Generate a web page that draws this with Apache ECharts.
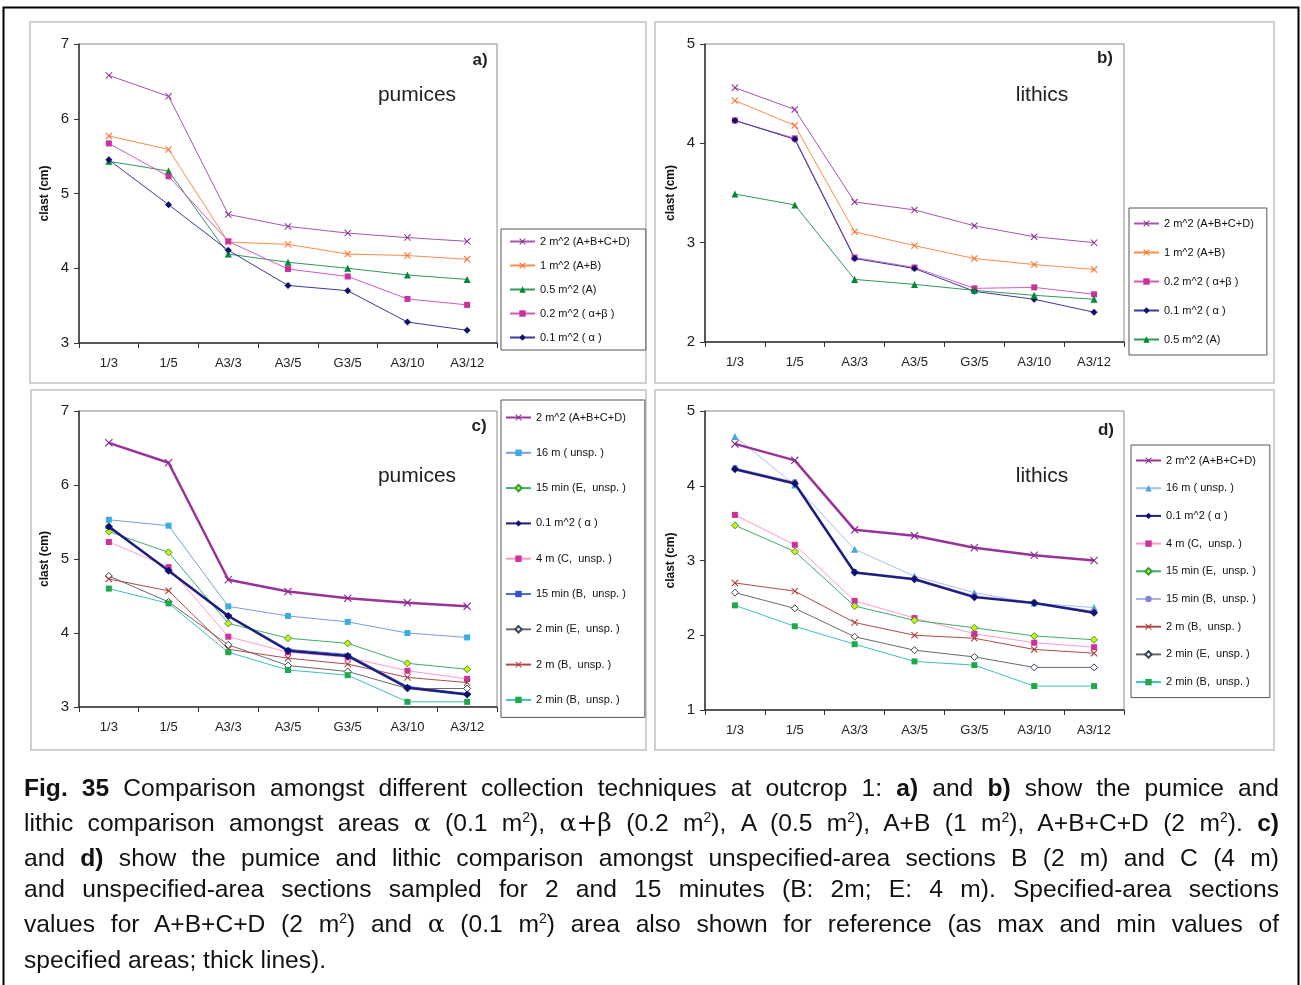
<!DOCTYPE html>
<html><head><meta charset="utf-8">
<script src="https://cdn.jsdelivr.net/npm/echarts@6/dist/echarts.min.js"></script>
<style>
html,body{margin:0;padding:0;background:#fff;}
#chart{position:absolute;left:0;top:0;width:1301px;height:985px;}
#cap{position:absolute;left:24px;top:772px;width:1255px;font-family:"Liberation Sans",Arial,sans-serif;font-size:24.6px;color:#111;}
#cap .l{text-align:justify;text-align-last:justify;line-height:32px;white-space:nowrap;}
#cap .l.last{text-align-last:left;}
#cap sup{font-size:14px;line-height:0;}
#cap .g{font-family:"DejaVu Serif",serif;font-size:25px;}
</style></head><body>
<div id="chart"></div>
<div id="cap">
<div class="l"><b>Fig. 35</b> Comparison amongst different collection techniques at outcrop 1: <b>a)</b> and <b>b)</b> show the pumice and</div>
<div class="l" style="line-height:38px">lithic comparison amongst areas <span class="g">α</span> (0.1 m<sup>2</sup>), <span class="g">α+β</span> (0.2 m<sup>2</sup>), A (0.5 m<sup>2</sup>), A+B (1 m<sup>2</sup>), A+B+C+D (2 m<sup>2</sup>). <b>c)</b></div>
<div class="l">and <b>d)</b> show the pumice and lithic comparison amongst unspecified-area sections B (2 m) and C (4 m)</div>
<div class="l" style="line-height:30px">and unspecified-area sections sampled for 2 and 15 minutes (B: 2m; E: 4 m). Specified-area sections</div>
<div class="l" style="line-height:40px">values for A+B+C+D (2 m<sup>2</sup>) and <span class="g">α</span> (0.1 m<sup>2</sup>) area also shown for reference (as max and min values of</div>
<div class="l last">specified areas; thick lines).</div>
</div>
<script>
const categories = ['1/3','1/5','A3/3','A3/5','G3/5','A3/10','A3/12'];

// panel a (pumices, areas)
const a_2m2  = [6.58,6.30,4.72,4.56,4.47,4.41,4.36];
const a_1m2  = [5.77,5.59,4.35,4.32,4.19,4.17,4.12];
const a_05m2 = [5.43,5.30,4.19,4.08,4.00,3.91,3.85];
const a_02m2 = [5.67,5.23,4.36,3.99,3.89,3.59,3.51];
const a_01m2 = [5.45,4.85,4.24,3.77,3.70,3.28,3.17];

// panel b (lithics, areas)
const b_2m2  = [4.56,4.34,3.41,3.33,3.17,3.06,3.00];
const b_1m2  = [4.43,4.18,3.11,2.97,2.84,2.78,2.73];
const b_02m2 = [4.23,4.05,2.85,2.75,2.54,2.55,2.48];
const b_01m2 = [4.23,4.04,2.84,2.74,2.51,2.43,2.30];
const b_05m2 = [3.49,3.38,2.63,2.58,2.52,2.47,2.43];

// panel c (pumices, unspecified)
const c_2m2    = [6.57,6.30,4.72,4.56,4.47,4.41,4.36];
const c_16m    = [5.53,5.45,4.36,4.23,4.15,4.00,3.94];
const c_15minE = [5.37,5.09,4.13,3.93,3.86,3.59,3.51];
const c_01m2   = [5.44,4.84,4.23,3.76,3.69,3.26,3.17];
const c_4mC    = [5.23,4.89,3.95,3.74,3.67,3.49,3.38];
const c_15minB = [5.42,4.85,4.24,3.78,3.71,3.28,3.18];
const c_2minE  = [4.77,4.42,3.84,3.56,3.48,3.25,3.25];
const c_2mB    = [4.73,4.57,3.78,3.66,3.58,3.40,3.33];
const c_2minB  = [4.60,4.40,3.74,3.50,3.43,3.07,3.07];

// panel d (lithics, unspecified)
const d_2m2    = [4.56,4.34,3.41,3.33,3.17,3.07,3.00];
const d_16m    = [4.66,4.01,3.15,2.79,2.57,2.43,2.37];
const d_01m2   = [4.22,4.03,2.84,2.75,2.51,2.43,2.30];
const d_4mC    = [3.61,3.21,2.46,2.23,2.02,1.90,1.84];
const d_15minE = [3.47,3.12,2.39,2.20,2.10,1.99,1.94];
const d_15minB = [4.24,4.05,2.85,2.76,2.53,2.44,2.32];
const d_2mB    = [2.70,2.59,2.17,2.00,1.96,1.81,1.76];
const d_2minE  = [2.57,2.36,1.98,1.80,1.71,1.57,1.57];
const d_2minB  = [2.40,2.12,1.88,1.65,1.60,1.32,1.32];

const yRanges = [[3,7],[2,5],[3,7],[1,5]];

const XSYM = 'path://M1,0 L5,4 L9,0 L10,1 L6,5 L10,9 L9,10 L5,6 L1,10 L0,9 L4,5 L0,1Z';
const ZW = ['', '\u200b', '\u200b\u200b', '\u200b\u200b\u200b'];

function mk(name, data, g, o) {
  return {
    type: 'line', name: name + ZW[g], data: data,
    xAxisIndex: g, yAxisIndex: g,
    symbol: o.sym, symbolSize: o.size || 6,
    lineStyle: { color: o.line, width: o.w || 1 },
    itemStyle: { color: o.fill || o.mark, borderColor: o.mark, borderWidth: o.bw || 0 },
    z: o.z || 2
  };
}

const st = {
  m2:   { line: '#a855b0', mark: '#8a2a90', sym: XSYM, size: 7 },
  m2t:  { line: '#993399', mark: '#8a2a90', sym: XSYM, size: 8, w: 2.5, z: 5 },
  m1:   { line: '#ff8c4a', mark: '#ff6a20', sym: XSYM, size: 7 },
  m05:  { line: '#2f9a5a', mark: '#008a33', sym: 'triangle', size: 7 },
  m02:  { line: '#d05cc0', mark: '#c8329a', sym: 'rect', size: 6 },
  m01:  { line: '#3a3a9a', mark: '#101070', sym: 'diamond', size: 7 },
  m01t: { line: '#1e1e80', mark: '#101070', sym: 'diamond', size: 8, w: 2.5, z: 5 },
  m16c: { line: '#7a9de0', mark: '#3aaee0', sym: 'rect', size: 6 },
  m16d: { line: '#a9c0ee', mark: '#44a8dd', sym: 'triangle', size: 7 },
  m15E: { line: '#3fae6a', mark: '#2f9a4a', fill: '#d8f000', bw: 1, sym: 'diamond', size: 7 },
  m4C:  { line: '#ff9ad0', mark: '#d0309a', sym: 'rect', size: 6 },
  m15Bc:{ line: '#4a70d0', mark: '#3355cc', sym: 'rect', size: [7,2] },
  m15Bd:{ line: '#b0b0ee', mark: '#8a80d8', sym: 'circle', size: 6 },
  m2mE: { line: '#6a6a6a', mark: '#334455', fill: '#ffffff', bw: 1, sym: 'diamond', size: 7 },
  m2mB: { line: '#b04a4a', mark: '#a83232', sym: XSYM, size: 7 },
  m2minB:{ line: '#3ec0c0', mark: '#1ea84a', sym: 'rect', size: 6 }
};

const series = [
  mk('2 m^2 (A+B+C+D)', a_2m2, 0, st.m2),
  mk('1 m^2 (A+B)', a_1m2, 0, st.m1),
  mk('0.5 m^2 (A)', a_05m2, 0, st.m05),
  mk('0.2 m^2 ( α+β )', a_02m2, 0, st.m02),
  mk('0.1 m^2 ( α )', a_01m2, 0, st.m01),

  mk('2 m^2 (A+B+C+D)', b_2m2, 1, st.m2),
  mk('1 m^2 (A+B)', b_1m2, 1, st.m1),
  mk('0.2 m^2 ( α+β )', b_02m2, 1, st.m02),
  mk('0.1 m^2 ( α )', b_01m2, 1, st.m01),
  mk('0.5 m^2 (A)', b_05m2, 1, st.m05),

  mk('2 m^2 (A+B+C+D)', c_2m2, 2, st.m2t),
  mk('16 m ( unsp. )', c_16m, 2, st.m16c),
  mk('15 min (E,  unsp. )', c_15minE, 2, st.m15E),
  mk('0.1 m^2 ( α )', c_01m2, 2, st.m01t),
  mk('4 m (C,  unsp. )', c_4mC, 2, st.m4C),
  mk('15 min (B,  unsp. )', c_15minB, 2, st.m15Bc),
  mk('2 min (E,  unsp. )', c_2minE, 2, st.m2mE),
  mk('2 m (B,  unsp. )', c_2mB, 2, st.m2mB),
  mk('2 min (B,  unsp. )', c_2minB, 2, st.m2minB),

  mk('2 m^2 (A+B+C+D)', d_2m2, 3, st.m2t),
  mk('16 m ( unsp. )', d_16m, 3, st.m16d),
  mk('0.1 m^2 ( α )', d_01m2, 3, st.m01t),
  mk('4 m (C,  unsp. )', d_4mC, 3, st.m4C),
  mk('15 min (E,  unsp. )', d_15minE, 3, st.m15E),
  mk('15 min (B,  unsp. )', d_15minB, 3, st.m15Bd),
  mk('2 m (B,  unsp. )', d_2mB, 3, st.m2mB),
  mk('2 min (E,  unsp. )', d_2minE, 3, st.m2mE),
  mk('2 min (B,  unsp. )', d_2minB, 3, st.m2minB)
];

const grids = [
  { left: 79, top: 44, width: 418, height: 299 },
  { left: 705, top: 44, width: 419, height: 298 },
  { left: 79, top: 411, width: 418, height: 296 },
  { left: 705, top: 411, width: 419, height: 299 }
].map(g => Object.assign(g, { show: true, borderColor: '#8a8a8a', borderWidth: 1, backgroundColor: 'transparent' }));

const xAxes = grids.map((g, i) => ({
  type: 'category', gridIndex: i, data: categories, boundaryGap: true,
  axisLine: { lineStyle: { color: '#333', width: 1.5 } },
  axisTick: { show: true, alignWithLabel: false, length: 5, lineStyle: { color: '#333' } },
  axisLabel: { color: '#222', fontSize: 13, margin: 14, fontFamily: 'Liberation Sans, Arial' },
  splitLine: { show: false }
}));

const yAxes = grids.map((g, i) => ({
  type: 'value', gridIndex: i, min: yRanges[i][0], max: yRanges[i][1], interval: 1,
  name: 'clast (cm)', nameLocation: 'middle', nameGap: 28, nameRotate: 90,
  nameTextStyle: { fontWeight: 'bold', fontSize: 12, color: '#111', fontFamily: 'Liberation Sans, Arial' },
  axisLine: { show: true, lineStyle: { color: '#333', width: 1.5 } },
  axisTick: { show: true, length: 5, lineStyle: { color: '#333' } },
  axisLabel: { color: '#222', fontSize: 15, margin: 10, fontFamily: 'Liberation Sans, Arial' },
  splitLine: { show: false }
}));

function legendNames(g) {
  return series.filter(s => s.xAxisIndex === g).map(s => s.name);
}
const legBase = {
  orient: 'vertical', itemWidth: 25, itemHeight: 8,
  borderColor: '#555', borderWidth: 1, backgroundColor: '#fff',
  textStyle: { fontSize: 11, color: '#111', fontFamily: 'Liberation Sans, Arial' },
  formatter: n => n.replace(/\u200b/g, ''),
  selectedMode: false
};
const legends = [
  Object.assign({}, legBase, { data: legendNames(0), left: 501, top: 229, itemGap: 13, padding: [7, 16, 7, 8] }),
  Object.assign({}, legBase, { data: legendNames(1), left: 1129, top: 208, itemGap: 18, padding: [10, 13, 10, 4] }),
  Object.assign({}, legBase, { data: legendNames(2), left: 501, top: 400, itemGap: 24.3, padding: [12, 19, 12, 4] }),
  Object.assign({}, legBase, { data: legendNames(3), left: 1131, top: 445, itemGap: 16.7, padding: [10, 14, 10, 4] })
];

const frameStyle = { fill: 'none', stroke: '#cfcfcf', lineWidth: 2 };
const txt = (x, y, t, size, bold) => ({
  type: 'text', x: x, y: y, z: 20,
  style: { text: t, fontSize: size, fontWeight: bold ? 'bold' : 'normal', fill: '#222',
           fontFamily: 'Liberation Sans, Arial', textAlign: 'center', textVerticalAlign: 'middle' }
});

const option = {
  animation: false,
  backgroundColor: '#fff',
  grid: grids, xAxis: xAxes, yAxis: yAxes, legend: legends, series: series,
  graphic: [
    { type: 'rect', shape: { x: 3.5, y: 7.5, width: 1295, height: 990 }, style: { fill: 'none', stroke: '#000', lineWidth: 2 }, silent: true },
    { type: 'rect', shape: { x: 30, y: 22, width: 616, height: 361 }, style: frameStyle, silent: true },
    { type: 'rect', shape: { x: 655, y: 22, width: 619, height: 361 }, style: frameStyle, silent: true },
    { type: 'rect', shape: { x: 31, y: 390, width: 615, height: 360 }, style: frameStyle, silent: true },
    { type: 'rect', shape: { x: 655, y: 390, width: 619, height: 360 }, style: frameStyle, silent: true },
    txt(480, 60, 'a)', 17, true),
    txt(417, 95, 'pumices', 21, false),
    txt(1105, 58, 'b)', 17, true),
    txt(1042, 95, 'lithics', 21, false),
    txt(479, 426, 'c)', 17, true),
    txt(417, 476, 'pumices', 21, false),
    txt(1106, 430, 'd)', 17, true),
    txt(1042, 476, 'lithics', 21, false)
  ]
};

const chart = echarts.init(document.getElementById('chart'), null, { renderer: 'canvas' });
chart.setOption(option);
</script>
</body></html>
